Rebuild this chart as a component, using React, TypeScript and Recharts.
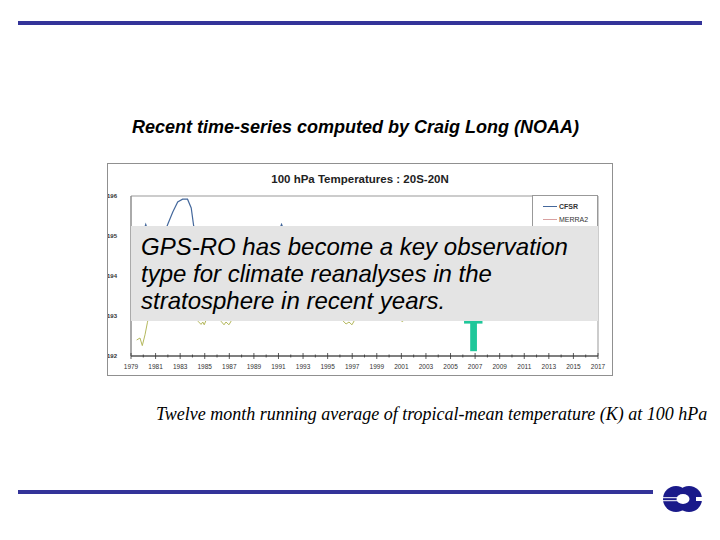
import React from 'react';
import { LineChart, Line, XAxis, YAxis, Legend, ReferenceArea } from 'recharts';

// ---- data (year, temperature K) ----
const cfsrPairs: [number, number][] = [
  [1979.5, 194.6], [1979.9, 195.0], [1980.2, 195.29], [1980.5, 195.0], [1981.0, 194.7],
  [1981.5, 194.9], [1982.0, 195.3], [1982.4, 195.6], [1982.8, 195.85], [1983.2, 195.92],
  [1983.6, 195.92], [1983.9, 195.7], [1984.1, 195.25], [1984.5, 194.8], [1985.0, 194.3],
  [1986.0, 194.2], [1987.0, 194.1], [1988.0, 194.8], [1989.0, 194.3], [1990.0, 194.7],
  [1991.0, 195.1], [1991.25, 195.29], [1991.5, 195.1], [1992.0, 194.7], [1993.0, 194.4],
  [1994.0, 194.5], [1995.0, 194.1], [1996.0, 193.6], [1997.0, 193.5], [1998.0, 194.2],
  [1999.0, 194.1], [2000.0, 193.7], [2001.0, 193.5], [2002.0, 194.0], [2003.0, 194.1],
  [2004.0, 194.0], [2005.0, 193.6], [2006.0, 193.7], [2007.0, 193.5], [2008.0, 194.0],
  [2009.0, 194.1], [2010.0, 194.2], [2011.0, 193.7], [2012.0, 194.0], [2013.0, 193.9],
  [2014.0, 194.0], [2015.0, 194.3], [2016.0, 194.8], [2016.6, 194.5],
];

const merra2Pairs: [number, number][] = [
  [1980.0, 194.2], [1981.0, 194.4], [1982.0, 194.9], [1983.0, 194.8], [1984.0, 194.1],
  [1985.0, 193.5], [1986.0, 193.8], [1987.0, 193.4], [1988.0, 194.1], [1989.0, 194.0],
  [1990.0, 194.1], [1991.0, 194.7], [1992.0, 194.2], [1993.0, 193.9], [1994.0, 194.0],
  [1995.0, 193.6], [1996.0, 193.2], [1997.0, 193.2], [1998.0, 193.9], [1999.0, 193.8],
  [2000.0, 193.4], [2001.0, 193.2], [2002.0, 193.7], [2003.0, 193.8], [2004.0, 193.8],
  [2005.0, 193.4], [2006.0, 193.5], [2007.0, 193.3], [2008.0, 193.8], [2009.0, 193.9],
  [2010.0, 194.0], [2011.0, 193.5], [2012.0, 193.8], [2013.0, 193.7], [2014.0, 193.8],
  [2015.0, 194.1], [2016.0, 194.6], [2016.6, 194.3],
];

const jraPairs: [number, number][] = [
  [1979.46, 192.4], [1979.73, 192.45], [1979.92, 192.26], [1980.14, 192.53], [1980.33, 192.83],
  [1980.45, 193.0], [1981.0, 193.7], [1982.0, 194.4], [1983.0, 194.3], [1984.0, 193.4],
  [1984.3, 193.0], [1984.48, 192.86], [1984.7, 192.79], [1984.84, 192.85], [1984.96, 192.78],
  [1985.1, 192.89], [1985.5, 193.1], [1986.1, 192.97], [1986.32, 192.87], [1986.57, 192.78],
  [1986.73, 192.85], [1986.97, 192.78], [1987.2, 192.9], [1987.7, 193.4], [1988.6, 194.2],
  [1989.6, 193.7], [1991.1, 194.5], [1992.1, 193.9], [1993.1, 193.7], [1994.1, 193.8],
  [1995.1, 193.3], [1995.9, 193.0], [1996.25, 192.88], [1996.5, 192.8], [1996.74, 192.85],
  [1996.98, 192.78], [1997.2, 192.9], [1997.7, 193.3], [1998.6, 193.9], [1999.6, 193.3],
  [2000.5, 192.97], [2001.1, 192.86], [2001.6, 193.05], [2002.5, 193.5], [2003.5, 193.8],
  [2004.5, 193.4], [2005.5, 193.1], [2006.5, 193.2], [2007.5, 193.3], [2008.5, 193.5],
  [2009.5, 193.9], [2010.5, 193.5], [2011.5, 193.4], [2012.5, 193.7], [2013.5, 193.4],
  [2014.5, 193.8], [2015.5, 194.2], [2016.6, 194.1],
];

const yTicks = [192, 193, 194, 195, 196];
const xTicks = [
  1979, 1980, 1981, 1982, 1983, 1984, 1985, 1986, 1987, 1988, 1989, 1990, 1991,
  1992, 1993, 1994, 1995, 1996, 1997, 1998, 1999, 2000, 2001, 2002, 2003, 2004,
  2005, 2006, 2007, 2008, 2009, 2010, 2011, 2012, 2013, 2014, 2015, 2016, 2017,
];
const legendOrder = ['CFSR', 'MERRA2'];

// GPS-RO marker (years / K)
const markerStem = { x1: 2006.6, x2: 2007.15, y1: 192.12, y2: 193.1 };
const markerBar = { x1: 2006.1, x2: 2007.6, y1: 192.81, y2: 192.95 };

const toRows = (pairs: [number, number][], key: string) =>
  pairs.map(([year, t]) => ({ year, [key]: t }));
const cfsr = toRows(cfsrPairs, 'cfsr');
const merra2 = toRows(merra2Pairs, 'merra2');
const jra = toRows(jraPairs, 'jra');

const SANS = '"Liberation Sans", Arial, sans-serif';
const SERIF = '"Liberation Serif", "Times New Roman", serif';

const XTick = (props: any) => {
  const { x, y, payload } = props;
  const major = (payload.value - 1979) % 2 === 0;
  const h = major ? 3 : 1.5;
  return (
    <g>
      <line x1={x} x2={x} y1={y - h} y2={y + h} stroke="#333" strokeWidth={0.8} />
      {major && (
        <text x={x} y={y + 12.5} textAnchor="middle" fontSize={6.5} fill="#333" fontFamily={SANS}>
          {payload.value}
        </text>
      )}
    </g>
  );
};

const LegendBox = (props: any) => {
  const all = props.payload || [];
  const items = legendOrder
    .map((name) => all.find((it: any) => it.value === name))
    .filter(Boolean);
  return (
    <div
      style={{
        background: '#fff',
        border: '1px solid #999',
        width: 66,
        boxSizing: 'border-box',
        padding: '3.5px 0 20px 0',
        fontFamily: SANS,
        fontSize: 7,
        color: '#333',
      }}
    >
      {items.map((it: any, i: number) => (
        <div key={i} style={{ display: 'flex', alignItems: 'center', height: 13 }}>
          <div style={{ marginLeft: 10, width: 14, height: 0, borderTop: `1.2px solid ${it.color}` }} />
          <span style={{ marginLeft: 2, fontWeight: i === 0 ? 700 : 400 }}>{it.value}</span>
        </div>
      ))}
    </div>
  );
};

export default function App() {
  return (
    <div style={{ position: 'absolute', left: 0, top: 0, width: 720, height: 540, background: '#fff', overflow: 'hidden' }}>
      <div
        style={{
          position: 'absolute',
          left: 107,
          top: 163,
          width: 506,
          height: 213,
          border: '1px solid #909090',
          boxSizing: 'border-box',
          background: '#fff',
        }}
      >
        <LineChart width={504} height={211} margin={{ top: 32, right: 14, left: 0, bottom: 0 }}>
          <XAxis
            type="number"
            dataKey="year"
            domain={[1979, 2017]}
            ticks={xTicks}
            interval={0}
            allowDataOverflow
            height={19}
            tickSize={0}
            tickMargin={0}
            tickLine={false}
            axisLine={{ stroke: '#333', strokeWidth: 1 }}
            tick={<XTick />}
          />
          <YAxis
            type="number"
            domain={[192, 196]}
            ticks={yTicks}
            interval={0}
            allowDataOverflow
            width={23}
            tickSize={0}
            tickMargin={14}
            tickLine={false}
            axisLine={{ stroke: '#888' }}
            tick={{ fontSize: 6, fontWeight: 700, fill: '#333', fontFamily: SANS }}
          />
          <ReferenceArea x1={1979} x2={2017} y1={192} y2={196} fill="none" stroke="#999" strokeWidth={1} />
          <Line data={cfsr} dataKey="cfsr" name="CFSR" type="linear" stroke="#44689c" strokeWidth={1.2} dot={false} isAnimationActive={false} />
          <Line data={merra2} dataKey="merra2" name="MERRA2" type="linear" stroke="#d8a0a0" strokeWidth={1} dot={false} isAnimationActive={false} />
          <Line data={jra} dataKey="jra" name="JRA-55" type="linear" stroke="#b4b85c" strokeWidth={1} dot={false} legendType="none" isAnimationActive={false} />
          <ReferenceArea {...markerStem} fill="#1fc79a" fillOpacity={1} stroke="none" />
          <ReferenceArea {...markerBar} fill="#1fc79a" fillOpacity={1} stroke="none" />
          <Legend
            layout="vertical"
            align="center"
            verticalAlign="middle"
            content={<LegendBox />}
            wrapperStyle={{ left: 424, top: 31, width: 66 }}
          />
        </LineChart>
      </div>

      <svg width={720} height={540} style={{ position: 'absolute', left: 0, top: 0, pointerEvents: 'none' }}>
        <rect x={18} y={21} width={684} height={4} fill="#333399" />
        <rect x={18} y={490} width={635} height={4} fill="#333399" />
        {/* logo */}
        <g>
          <circle cx={676} cy={499} r={13} fill="#1a1a8a" />
          <circle cx={689} cy={499} r={13} fill="#1a1a8a" />
          <ellipse cx={683} cy={499} rx={6.5} ry={5} fill="#fff" />
          <rect x={696} y={497} width={8} height={4} fill="#fff" />
          <rect x={662} y={497.2} width={16} height={1} fill="#fff" />
          <rect x={662} y={500.2} width={16} height={1} fill="#fff" />
        </g>
        <text x={132} y={132.7} fontFamily={SANS} fontSize={18} fontWeight={700} fontStyle="italic" fill="#000">
          Recent time-series computed by Craig Long (NOAA)
        </text>
        <text x={360} y={183} textAnchor="middle" fontFamily={SANS} fontSize={11.5} fontWeight={700} fill="#222">
          100 hPa Temperatures : 20S-20N
        </text>
        <rect x={131} y={226} width={467} height={95} fill="#e4e4e4" />
        <text fontFamily={SANS} fontSize={24} fontStyle="italic" fill="#000">
          <tspan x={141} y={255}>GPS-RO has become a key observation</tspan>
          <tspan x={141} y={282}>type for climate reanalyses in the</tspan>
          <tspan x={141} y={309}>stratosphere in recent years.</tspan>
        </text>
        <text x={156} y={420} fontFamily={SERIF} fontSize={18} fontStyle="italic" fill="#000">
          Twelve month running average of tropical-mean temperature (K) at 100 hPa
        </text>
      </svg>
    </div>
  );
}
